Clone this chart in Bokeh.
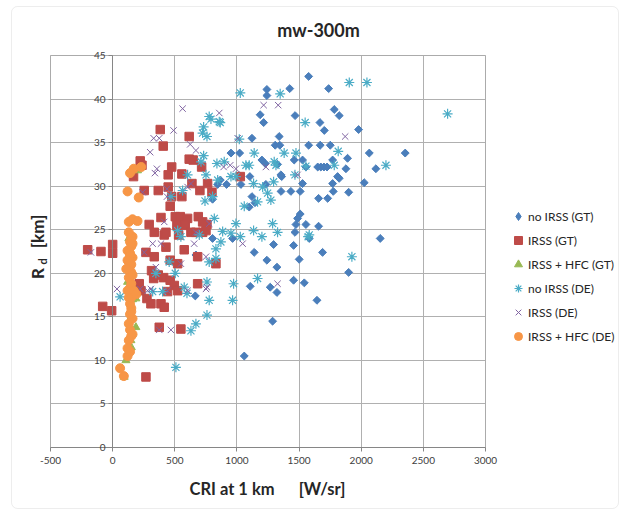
import math
from bokeh.plotting import figure
from bokeh.models import (Range1d, FixedTicker, Label, Legend, LegendItem, BoxAnnotation)
from bokeh.embed import file_html
from bokeh.resources import INLINE

title_text = "mw-300m"
x_label = "CRI at 1 km\u00a0\u00a0\u00a0\u00a0\u00a0\u00a0[W/sr]"
x_ticks = [-500, 0, 500, 1000, 1500, 2000, 2500, 3000]
x_tick_labels = ["-500", "0", "500", "1000", "1500", "2000", "2500", "3000"]
y_ticks = [0, 5, 10, 15, 20, 25, 30, 35, 40, 45]
y_tick_labels = ["0", "5", "10", "15", "20", "25", "30", "35", "40", "45"]
series_names = ["no IRSS (GT)", "IRSS (GT)", "IRSS + HFC (GT)",
                "no IRSS (DE)", "IRSS (DE)", "IRSS + HFC (DE)"]

# no IRSS (GT)
blue_x = [1577, 1425, 1738, 1241, 1241, 1783, 1823, 1468, 1187, 1215, 1668, 1703, 1979,
          1121, 1340, 1308, 1345, 1577, 1670, 1751, 2065, 2354, 952, 1022, 1461, 1528,
          1770, 1890, 1201, 1228, 1555, 1650, 1675, 1700, 1725, 1877, 2118, 1019, 1104,
          1360, 1810, 1823, 2024, 917, 1032, 1233, 1528, 1770, 1355, 1434, 1509, 1775,
          1899, 804, 1121, 1145, 1099, 1657, 1730, 1509, 1488, 1475, 1555, 1657, 1467,
          1582, 2153, 965, 804, 1456, 1295, 1139, 1689, 670, 1241, 1501, 1322, 1899,
          1456, 1542, 1107, 1268, 1322, 665, 1644, 1287, 1059, 845, 1327, 1354, 866]
blue_y = [42.6, 41.2, 41.2, 41.1, 40.4, 38.8, 38.1, 38.1, 38.2, 37.3, 37.3, 36.4, 36.5,
          35.5, 35.7, 34.7, 34.7, 34.7, 34.7, 34.7, 33.8, 33.8, 33.8, 33.8, 33.0, 33.0,
          33.0, 33.2, 33.0, 32.6, 32.2, 32.2, 32.2, 32.2, 32.2, 32.0, 32.0, 31.2, 31.1,
          31.1, 31.1, 30.9, 30.4, 30.2, 30.2, 30.2, 30.3, 30.3, 29.4, 29.4, 29.4, 29.4,
          29.3, 28.5, 28.8, 28.1, 27.6, 28.6, 28.6, 26.8, 26.3, 25.6, 25.6, 25.4, 24.7,
          24.0, 24.0, 24.0, 24.0, 23.2, 23.3, 22.4, 22.4, 22.1, 21.5, 21.6, 20.7, 20.1,
          19.2, 18.9, 18.5, 18.4, 17.8, 17.4, 16.9, 14.5, 10.5, 30.2, 32.5, 31.3, 30.7]

# IRSS (GT)
red_x = [383, 407, 616, 222, 236, 168, 475, 616, 648, 716, 447, 557, 254, 367, 447, 475,
         638, 702, 764, 799, 557, 463, 389, 504, 544, 603, 689, 294, 517, 584, 759, 335,
         415, 429, 531, 630, 670, 724, 751, 1027, -201, -94, 0, 0, -80, -8, 268, 335, 429,
         463, 576, 523, 684, 330, 410, 463, 496, 442, 523, 684, 228, 276, 308, 389, 375,
         549, 268, 415, 831, 724, 313, 214, 367]
red_y = [36.5, 34.6, 35.7, 32.9, 32.4, 31.1, 32.2, 33.1, 33.0, 32.2, 31.3, 31.4, 29.5,
         29.5, 29.9, 28.8, 30.3, 29.5, 30.3, 29.3, 28.8, 27.7, 26.4, 26.5, 26.5, 26.3,
         26.5, 25.6, 25.5, 25.5, 25.6, 24.7, 24.4, 24.7, 24.4, 24.7, 24.7, 24.7, 24.9,
         31.1, 22.7, 22.5, 23.3, 22.3, 16.2, 15.7, 22.4, 21.9, 23.0, 21.5, 22.7, 21.1,
         21.9, 19.4, 19.5, 19.2, 18.6, 17.9, 18.0, 18.8, 18.0, 17.1, 16.5, 16.5, 13.8,
         13.6, 8.1, 16.1, 21.1, 25.9, 20.3, 18.8, 19.8]

# IRSS + HFC (GT)
green_x = [187, 147, 107, 93, 187, 160, 200, 150, 140, 160, 130, 170, 150, 120]
green_y = [17.1, 12.3, 10.0, 8.1, 13.8, 17.0, 31.8, 15.0, 20.0, 22.0, 24.0, 26.0, 11.5, 19.0]

# no IRSS (DE)
cyan_x = [1027, 1348, 791, 866, 732, 724, 759, 1019, 1139, 1380, 732, 839, 1072, 992, 603,
          751, 845, 952, 1134, 1295, 1314, 469, 563, 804, 743, 818, 1059, 1134, 1201, 885,
          697, 523, 1904, 2046, 2695, 1549, 1475, 1815, 1555, 1783, 2199, 1467, 1582, 1925,
          509, 630, 670, 759, 777, 965, 973, 1166, 759, 598, 576, 504, 348, 455, 777, 831,
          871, 952, 1027, 549, 322, 402, 1573, 831, 777, 858, 1300, 1099, 898, 1207, 1247,
          1166, 1273, 711, 992, 1287, 1327, 60]
cyan_y = [40.7, 40.6, 37.7, 37.3, 36.8, 36.1, 35.7, 35.4, 33.8, 33.8, 33.5, 32.6, 32.4,
          31.1, 31.3, 31.3, 30.7, 31.1, 30.3, 30.5, 32.4, 28.8, 29.5, 28.8, 28.3, 26.3,
          27.7, 24.9, 24.2, 24.8, 24.4, 24.9, 41.9, 41.9, 38.3, 37.3, 33.8, 34.0, 32.3,
          32.4, 32.4, 31.3, 24.4, 21.9, 9.2, 13.4, 14.2, 15.2, 16.9, 16.9, 18.8, 19.4,
          19.0, 17.7, 18.4, 20.0, 20.0, 21.3, 21.3, 22.8, 23.6, 24.6, 24.2, 24.2, 17.9,
          17.9, 24.2, 21.7, 38.0, 37.4, 32.8, 32.4, 32.8, 29.9, 29.2, 28.2, 28.4, 32.8,
          25.7, 25.7, 24.7, 17.3]

# IRSS (DE)
purple_x = [563, 858, 490, 330, 375, 302, 356, 340, 624, 670, 893, 946, 992, 1233, 1215,
            1332, 1006, 241, 437, 437, 630, 603, 201, 415, 777, 1046, 670, 1871, 1488, -175,
            35, 254, 322, 389, 281, 308, 442, 375, 469, 603, 759, 751, 656, 1327, 348, 222,
            549, 751]
purple_y = [38.9, 38.4, 36.4, 35.5, 35.5, 33.9, 32.0, 31.5, 34.8, 34.1, 32.2, 32.4, 32.0,
            32.2, 39.3, 39.3, 35.5, 29.3, 29.7, 28.8, 30.3, 29.9, 25.9, 25.9, 25.7, 23.4,
            24.7, 35.7, 31.3, 22.4, 18.2, 22.4, 23.4, 23.4, 18.0, 18.2, 18.0, 13.5, 13.5,
            18.0, 18.4, 21.9, 23.4, 18.8, 20.7, 18.2, 21.1, 18.2]

# IRSS + HFC (DE)
orange_x = [90, 60, 120, 140, 120, 150, 140, 130, 160, 140, 150, 140, 130, 170, 140, 120,
            150, 130, 150, 140, 130, 160, 140, 120, 150, 140, 160, 130, 150, 130, 160, 200,
            120, 210, 170, 230, 140, 150, 110, 160, 150, 160, 130, 150, 170, 190, 140, 160,
            120]
orange_y = [8.2, 9.1, 10.5, 11.0, 11.4, 12.8, 13.5, 14.2, 14.8, 15.3, 16.0, 16.5, 17.2,
            17.8, 18.3, 18.0, 18.8, 19.5, 20.1, 20.8, 21.3, 21.8, 22.3, 22.6, 23.1, 23.6,
            24.2, 24.7, 24.0, 25.9, 26.2, 26.0, 29.4, 28.7, 32.0, 32.2, 31.5, 21.0, 20.5,
            19.8, 15.6, 13.0, 12.3, 17.2, 18.0, 17.6, 22.0, 23.4, 21.5]

FONT = "Lato"
TXT = "#404040"
DARK = "#262626"
GRID = "#b0b0b0"
AXIS = "#868686"
C_BLUE, C_RED, C_GREEN = "#4A7EBB", "#BE4B48", "#98B954"
C_CYAN, C_PURPLE, C_ORANGE = "#4BACC6", "#8064A2", "#F79646"

# ---- layout (canvas pixels) ----
W, H = 629, 510
PL, PR, PT, PB = 50, 485, 55, 447          # plot-area edges
XMIN, XMAX, YMIN, YMAX = -500, 3000, 0, 45
sx = (PR - PL) / (XMAX - XMIN)
sy = (PB - PT) / (YMAX - YMIN)
x_range = Range1d(XMIN - PL / sx, XMAX + (W - PR) / sx)
y_range = Range1d(YMIN - (H - PB) / sy, YMAX + PT / sy)


def scr(cx, cy):
    return cx, H - cy


p = figure(width=W, height=H, x_range=x_range, y_range=y_range,
           output_backend="svg", toolbar_location=None, min_border=0,
           min_border_left=0, min_border_right=0, min_border_top=0, min_border_bottom=0)
p.title.visible = False
p.background_fill_color = "white"
p.border_fill_color = "white"
p.outline_line_color = None

# x axis crossing at y = 0
p.xaxis.fixed_location = 0
p.xaxis.bounds = (XMIN, XMAX)
p.xaxis.ticker = FixedTicker(ticks=x_ticks)
p.xaxis.major_label_overrides = {t: l for t, l in zip(x_ticks, x_tick_labels)}
p.xaxis.minor_tick_line_color = None
p.xaxis.major_tick_in = 0
p.xaxis.major_tick_out = 4
p.xaxis.major_tick_line_color = AXIS
p.xaxis.axis_line_color = AXIS
p.xaxis.major_label_text_font = FONT
p.xaxis.major_label_text_font_size = "10px"
p.xaxis.major_label_text_color = TXT
p.xaxis.major_label_standoff = 5

# y axis crossing at x = 0
p.yaxis.fixed_location = 0
p.yaxis.bounds = (YMIN, YMAX)
p.yaxis.ticker = FixedTicker(ticks=y_ticks)
p.yaxis.major_label_overrides = {t: l for t, l in zip(y_ticks, y_tick_labels)}
p.yaxis.minor_tick_line_color = None
p.yaxis.major_tick_in = 0
p.yaxis.major_tick_out = 4
p.yaxis.major_tick_line_color = AXIS
p.yaxis.axis_line_color = AXIS
p.yaxis.major_label_text_font = FONT
p.yaxis.major_label_text_font_size = "10px"
p.yaxis.major_label_text_color = TXT
p.yaxis.major_label_standoff = 3

p.xgrid.ticker = FixedTicker(ticks=x_ticks)
p.ygrid.ticker = FixedTicker(ticks=y_ticks)
p.xgrid.bounds = (XMIN, XMAX)
p.ygrid.bounds = (YMIN, YMAX)
p.xgrid.cross_bounds = (YMIN, YMAX)
p.ygrid.cross_bounds = (XMIN, XMAX)
p.xgrid.grid_line_color = GRID
p.ygrid.grid_line_color = GRID

# chart border and plot-area border
bl, bb = scr(11, 508)
br, bt = scr(618, 6)
p.add_layout(BoxAnnotation(left=bl, right=br, bottom=bb, top=bt,
                           left_units="screen", right_units="screen",
                           bottom_units="screen", top_units="screen",
                           fill_alpha=0, line_color="#c4c4c4", line_width=1,
                           border_radius=6, level="underlay"))
p.add_layout(BoxAnnotation(left=XMIN, right=XMAX, bottom=YMIN, top=YMAX,
                           fill_alpha=0, line_color="#a0a0a0", line_width=1,
                           level="underlay"))

r_blue = p.scatter(blue_x, blue_y, marker="square", angle=math.pi / 4, size=5.6,
                   fill_color=C_BLUE, line_color=C_BLUE)
r_red = p.scatter(red_x, red_y, marker="square", size=8.5,
                  fill_color=C_RED, line_color=C_RED)
r_green = p.scatter(green_x, green_y, marker="triangle", size=8,
                    fill_color=C_GREEN, line_color=C_GREEN)
r_cyan = p.scatter(cyan_x, cyan_y, marker="asterisk", size=10,
                   line_color=C_CYAN, line_width=1.2)
r_purple = p.scatter(purple_x, purple_y, marker="x", size=9,
                     line_color=C_PURPLE, line_width=1)
r_orange = p.scatter(orange_x, orange_y, marker="circle", size=9,
                     fill_color=C_ORANGE, line_color=C_ORANGE)
# legend key for the diamond series (hidden twin drawn with the diamond symbol)
k_blue = p.scatter(blue_x, blue_y, marker="diamond", size=9,
                   fill_color=C_BLUE, line_color=C_BLUE, visible=False)

legend_renderers = [k_blue, r_red, r_green, r_cyan, r_purple, r_orange]
lx, ly = scr(508, 346)
legend = Legend(items=[LegendItem(label=n, renderers=[r])
                       for n, r in zip(series_names, legend_renderers)],
                location=(lx, ly), glyph_width=20, glyph_height=20, label_height=20,
                spacing=4, padding=0, margin=0, label_standoff=0,
                border_line_color=None, background_fill_alpha=0,
                inactive_fill_alpha=0,
                label_text_font=FONT, label_text_font_size="12px", label_text_color=DARK)
p.add_layout(legend)

tx, ty = scr(318, 29)
p.add_layout(Label(x=tx, y=ty, x_units="screen", y_units="screen", text=title_text,
                   text_align="center", text_baseline="middle", text_font=FONT,
                   text_font_size="18px", text_font_style="bold", text_color=DARK))
xlx, xly = scr(267, 488)
p.add_layout(Label(x=xlx, y=xly, x_units="screen", y_units="screen", text=x_label,
                   text_align="center", text_baseline="middle", text_font=FONT,
                   text_font_size="16.5px", text_font_style="bold", text_color=DARK))
rx, ry = scr(37, 273)
p.add_layout(Label(x=rx, y=ry, x_units="screen", y_units="screen", text="R",
                   angle=math.pi / 2, text_align="center", text_baseline="middle",
                   text_font=FONT, text_font_size="17px", text_font_style="bold",
                   text_color=DARK))
dx, dy = scr(42, 261)
p.add_layout(Label(x=dx, y=dy, x_units="screen", y_units="screen", text="d",
                   angle=math.pi / 2, text_align="center", text_baseline="middle",
                   text_font=FONT, text_font_size="11px", text_font_style="bold",
                   text_color=DARK))
kx, ky = scr(37, 231)
p.add_layout(Label(x=kx, y=ky, x_units="screen", y_units="screen", text="[km]",
                   angle=math.pi / 2, text_align="center", text_baseline="middle",
                   text_font=FONT, text_font_size="17px", text_font_style="bold",
                   text_color=DARK))

open("out.html", "w").write(file_html(p, INLINE))
